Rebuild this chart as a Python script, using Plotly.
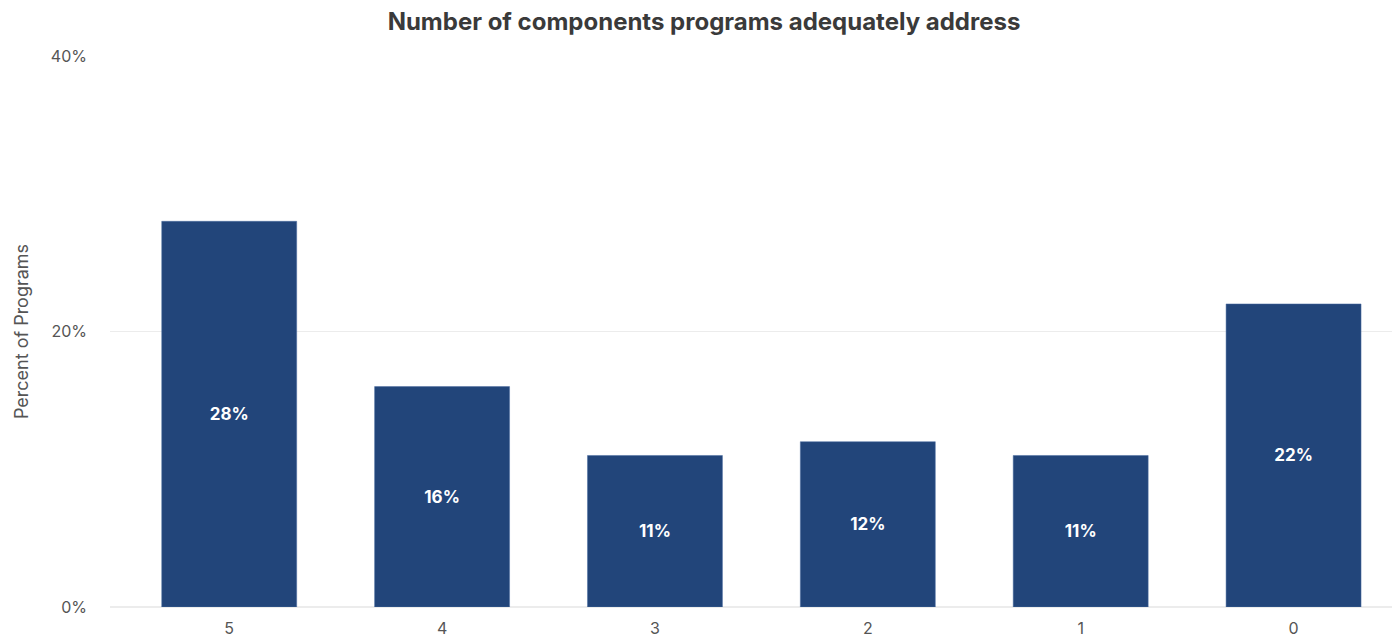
import plotly.graph_objects as go

categories = ["5", "4", "3", "2", "1", "0"]
percent_values = [28, 16, 11, 12, 11, 22]
label_texts = ["28%", "16%", "11%", "12%", "11%", "22%"]
y_tick_values = [0, 20, 40]
y_tick_labels = ["0%", "20%", "40%"]

FONT = "Inter"

fig = go.Figure()
fig.add_trace(go.Bar(
    x=categories,
    y=percent_values,
    text=label_texts,
    textposition="inside",
    insidetextanchor="middle",
    textangle=0,
    textfont=dict(family=FONT, size=17, color="white", weight="bold"),
    marker=dict(color="#22457a", line=dict(color="#4a6da0", width=0.5)),
    hoverinfo="skip",
))

fig.update_layout(
    width=1392,
    height=632,
    paper_bgcolor="white",
    plot_bgcolor="white",
    margin=dict(l=102, r=0, t=48, b=33, autoexpand=False),
    bargap=0.366,
    showlegend=False,
    title=dict(
        text="Number of components programs adequately address",
        x=0.5, xanchor="center", y=1, yanchor="top",
        pad=dict(t=5),
        font=dict(family=FONT, size=24, color="#3a3a3a", weight="bold"),
    ),
    xaxis=dict(
        type="category",
        range=[-0.56, 5.5],
        showgrid=False,
        showline=False,
        ticks="",
        ticklabelstandoff=10,
        tickfont=dict(family=FONT, size=16, color="#555555"),
        fixedrange=True,
        automargin=False,
    ),
    yaxis=dict(
        range=[0, 40],
        tickvals=y_tick_values,
        ticktext=y_tick_labels,
        showgrid=True,
        gridcolor="#ececec",
        gridwidth=1,
        zeroline=True,
        zerolinecolor="#ececec",
        showline=False,
        ticks="",
        ticklabelstandoff=22,
        tickfont=dict(family=FONT, size=16, color="#555555"),
        automargin=False,
        title=dict(text="Percent of Programs", standoff=17,
                   font=dict(family=FONT, size=18, color="#555555")),
    ),
)

fig.write_html("out.html")
